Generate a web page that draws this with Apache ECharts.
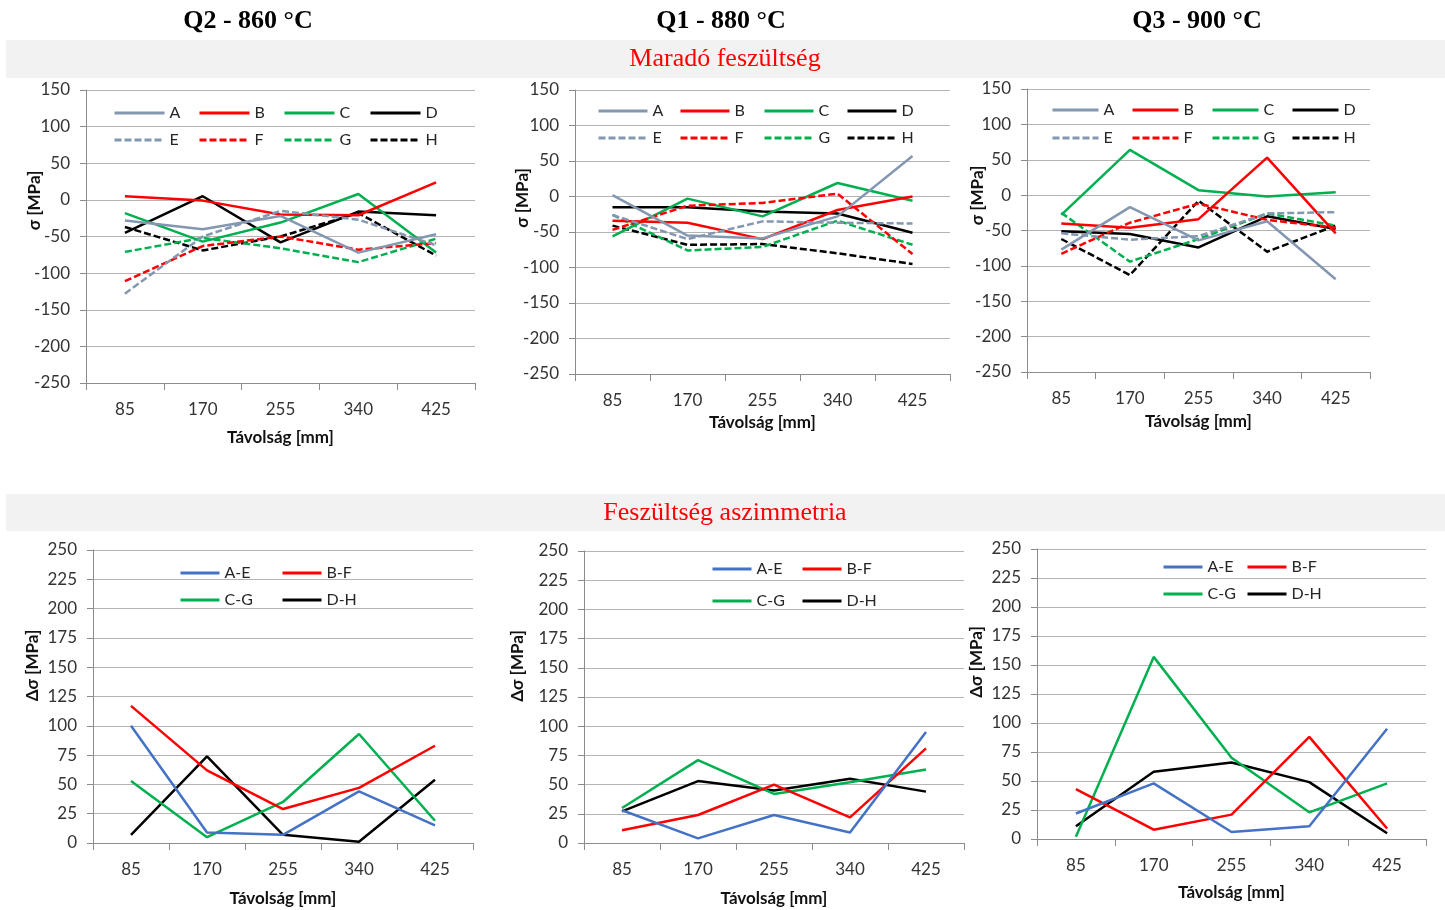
<!DOCTYPE html>
<html>
<head>
<meta charset="utf-8">
<script src="https://cdn.jsdelivr.net/npm/echarts@6/dist/echarts.min.js"></script>
<style>
  html, body { margin: 0; padding: 0; background: #ffffff; }
  #chart { width: 1445px; height: 910px; }
</style>
</head>
<body>
<div id="chart"></div>
<script>
// Measuring positions along the specimen [mm]
const distances = ['85', '170', '255', '340', '425'];

// Residual stress σ [MPa], Q2 - 860 °C
const q2A = [-28, -40, -22, -72, -47];
const q2B = [5, -1, -20, -21, 24];
const q2C = [-18, -57, -31, 8, -72];
const q2D = [-45, 5, -58, -16, -21];
const q2E = [-128, -50, -15, -27, -62];
const q2F = [-111, -63, -50, -68, -59];
const q2G = [-71, -52, -66, -85, -53];
const q2H = [-37, -69, -50, -18, -76];

// Residual stress σ [MPa], Q1 - 880 °C
const q1A = [2, -55, -59, -28, 57];
const q1B = [-34, -37, -60, -19, 0];
const q1C = [-56, -3, -28, 19, -6];
const q1D = [-15, -15, -21, -24, -51];
const q1E = [-26, -60, -35, -37, -38];
const q1F = [-47, -13, -9, 4, -81];
const q1G = [-26, -76, -71, -34, -68];
const q1H = [-41, -68, -67, -80, -95];

// Residual stress σ [MPa], Q3 - 900 °C
const q3A = [-77, -17, -64, -37, -119];
const q3B = [-40, -46, -34, 53, -54];
const q3C = [-28, 64, 7, -2, 4];
const q3D = [-51, -55, -74, -30, -48];
const q3E = [-54, -63, -58, -26, -24];
const q3F = [-83, -39, -12, -35, -46];
const q3G = [-25, -94, -62, -26, -43];
const q3H = [-62, -113, -8, -80, -43];

// Stress asymmetry Δσ [MPa], Q2 - 860 °C
const q2AE = [100, 9, 7, 44, 15];
const q2BF = [117, 62, 29, 47, 83];
const q2CG = [53, 5, 35, 93, 19];
const q2DH = [7, 74, 7, 1, 54];

// Stress asymmetry Δσ [MPa], Q1 - 880 °C
const q1AE = [28, 4, 24, 9, 95];
const q1BF = [11, 24, 50, 22, 81];
const q1CG = [30, 71, 42, 52, 63];
const q1DH = [27, 53, 45, 55, 44];

// Stress asymmetry Δσ [MPa], Q3 - 900 °C
const q3AE = [22, 48, 6, 11, 95];
const q3BF = [43, 8, 21, 88, 9];
const q3CG = [2, 157, 70, 23, 48];
const q3DH = [11, 58, 66, 49, 5];

const stressNames = ['A', 'B', 'C', 'D', 'E', 'F', 'G', 'H'];
const asymNames = ['A-E', 'B-F', 'C-G', 'D-H'];
const columnTitles = ['Q2 - 860 °C', 'Q1 - 880 °C', 'Q3 - 900 °C'];

const stressPanels = [
  [q2A, q2B, q2C, q2D, q2E, q2F, q2G, q2H],
  [q1A, q1B, q1C, q1D, q1E, q1F, q1G, q1H],
  [q3A, q3B, q3C, q3D, q3E, q3F, q3G, q3H]
];
const asymPanels = [
  [q2AE, q2BF, q2CG, q2DH],
  [q1AE, q1BF, q1CG, q1DH],
  [q3AE, q3BF, q3CG, q3DH]
];

// ---- styling / layout ----
const FONT = 'Lato, "Open Sans", sans-serif';
const SERIF = '"Liberation Serif", "DejaVu Serif", serif';
const stressColors = ['#8497b0', '#ff0000', '#00b050', '#000000'];
const asymColors = ['#4472c4', '#ff0000', '#00b050', '#000000'];
const DASH = [7, 3];

// plot areas: three stress panels, then three asymmetry panels
const boxes = [
  { left: 86, top: 90, width: 389, height: 293, xGap: 46, yGap: 43, yShift: 72 },
  { left: 575, top: 90, width: 375, height: 284, xGap: 40, yGap: 44, yShift: 68 },
  { left: 1027, top: 89, width: 343, height: 283, xGap: 41, yGap: 41, yShift: 70 },
  { left: 93, top: 550, width: 380, height: 293, xGap: 47, yGap: 52, yShift: 62 },
  { left: 584, top: 551, width: 380, height: 292, xGap: 47, yGap: 58, yShift: 62 },
  { left: 1037, top: 549, width: 389, height: 290, xGap: 45, yGap: 52, yShift: 64 }
];

// legend item anchors [x of line start, y of row centre] and line length
const legendLayouts = [
  { xs: [113, 198, 283, 369], ys: [112, 139], len: 50 },
  { xs: [597, 679, 763, 846], ys: [110, 137], len: 49 },
  { xs: [1051, 1131, 1211, 1291], ys: [109, 137], len: 46 },
  { xs: [179, 281], ys: [572, 599], len: 39 },
  { xs: [711, 801], ys: [568, 600], len: 39 },
  { xs: [1162, 1246], ys: [566, 593], len: 39 }
];

const grids = [], xAxes = [], yAxes = [], series = [], legends = [];

boxes.forEach((b, i) => {
  const isStress = i < 3;
  grids.push({ left: b.left, top: b.top, width: b.width, height: b.height, containLabel: false });
  xAxes.push({
    type: 'category',
    gridIndex: i,
    data: distances,
    boundaryGap: true,
    axisLine: { onZero: false, lineStyle: { color: '#8c8c8c', width: 1 } },
    axisTick: { show: true, length: 7, lineStyle: { color: '#8c8c8c' } },
    axisLabel: { color: '#333333', fontFamily: FONT, fontSize: 17, margin: 18 },
    splitLine: { show: false },
    name: 'Távolság [mm]',
    nameLocation: 'middle',
    nameGap: b.xGap,
    nameMoveOverlap: false,
    nameTextStyle: { color: '#111111', fontFamily: FONT, fontSize: 17, fontWeight: 'bold' }
  });
  yAxes.push({
    type: 'value',
    gridIndex: i,
    min: isStress ? -250 : 0,
    max: isStress ? 150 : 250,
    interval: isStress ? 50 : 25,
    axisLine: { show: true, lineStyle: { color: '#8c8c8c', width: 1 } },
    axisTick: { show: true, length: 6, lineStyle: { color: '#8c8c8c' } },
    axisLabel: { color: '#333333', fontFamily: FONT, fontSize: 17, margin: 16 },
    splitLine: { show: true, lineStyle: { color: '#b4b4b4', width: 1 } },
    name: isStress ? 'σ [MPa]' : 'Δσ [MPa]',
    nameLocation: 'middle',
    nameGap: b.yGap,
    nameMoveOverlap: false,
    nameTextStyle: {
      color: '#111111', fontFamily: FONT, fontSize: 17, fontWeight: 'bold',
      padding: [0, 0, 0, b.yShift]
    }
  });

  const names = isStress ? stressNames : asymNames;
  const values = isStress ? stressPanels[i] : asymPanels[i - 3];
  const colors = isStress ? stressColors : asymColors;
  names.forEach((name, k) => {
    const dashed = isStress && k >= 4;
    series.push({
      type: 'line',
      name: name,
      xAxisIndex: i,
      yAxisIndex: i,
      data: values[k],
      symbol: 'none',
      smooth: false,
      lineStyle: { color: colors[k % 4], width: 2.5, type: dashed ? DASH : 'solid' },
      itemStyle: { color: colors[k % 4] },
      z: 10 - (k % 4)
    });
    const lay = legendLayouts[i];
    const perRow = isStress ? 4 : 2;
    const row = Math.floor(k / perRow);
    const col = k % perRow;
    legends.push({
      data: [name],
      left: lay.xs[col],
      top: lay.ys[row] - 7,
      orient: 'horizontal',
      padding: 0,
      itemGap: 0,
      itemWidth: lay.len,
      itemHeight: 14,
      selectedMode: false,
      lineStyle: { width: 3 },
      // line-only key: hide the marker drawn in the middle of the key line
      itemStyle: { color: 'rgba(0,0,0,0)', borderColor: 'rgba(0,0,0,0)', borderWidth: 0, opacity: 0 },
      textStyle: { color: '#262626', fontFamily: FONT, fontSize: 16 }
    });
  });
});

// column headings and section bands
const graphics = [
  { type: 'rect', shape: { x: 6, y: 40, width: 1439, height: 38 }, style: { fill: '#f2f2f2' }, z: -1 },
  { type: 'rect', shape: { x: 6, y: 494, width: 1439, height: 37 }, style: { fill: '#f2f2f2' }, z: -1 },
  { type: 'text', x: 725, y: 59, style: { text: 'Maradó feszültség', fill: '#ff0000', font: '26px ' + SERIF, align: 'center', verticalAlign: 'middle' } },
  { type: 'text', x: 725, y: 513, style: { text: 'Feszültség aszimmetria', fill: '#ff0000', font: '26px ' + SERIF, align: 'center', verticalAlign: 'middle' } }
];
[248, 721, 1197].forEach((cx, j) => {
  graphics.push({
    type: 'text', x: cx, y: 21,
    style: { text: columnTitles[j], fill: '#000000', font: 'bold 26px ' + SERIF, align: 'center', verticalAlign: 'middle' }
  });
});

const chart = echarts.init(document.getElementById('chart'), null, { renderer: 'canvas' });
chart.setOption({
  animation: false,
  backgroundColor: '#ffffff',
  grid: grids,
  xAxis: xAxes,
  yAxis: yAxes,
  legend: legends,
  series: series,
  graphic: graphics
});
</script>
</body>
</html>
